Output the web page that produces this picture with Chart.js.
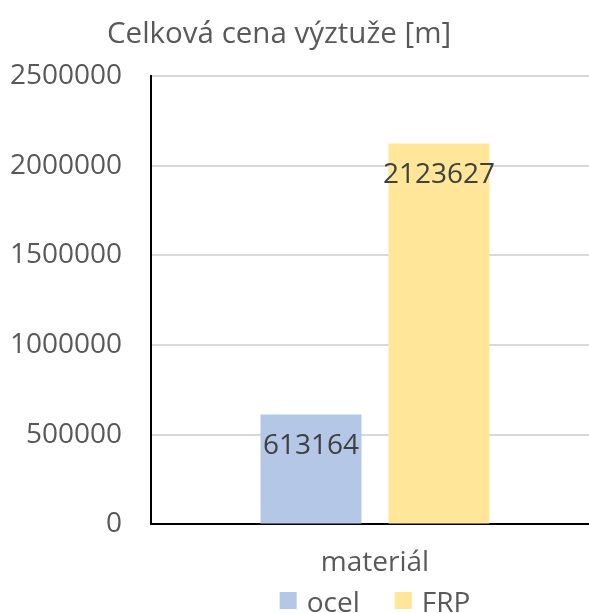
<!DOCTYPE html>
<html>
<head>
<meta charset="utf-8">
<script src="https://cdn.jsdelivr.net/npm/chart.js@4"></script>
<style>
  html, body { margin: 0; padding: 0; background: #fff; overflow: hidden; }
  #wrap { width: 599px; height: 613px; }
</style>
</head>
<body>
<div id="wrap"><canvas id="myChart"></canvas></div>
<script>
var chartTitle = 'Celková cena výztuže [m]';
var categories = ['materiál'];
var ocel = [613164];
var frp = [2123627];
var yTicks = [0, 500000, 1000000, 1500000, 2000000, 2500000];

// value labels inside the top of each bar, title and legend drawn by hand
var extras = {
    id: 'extras',
    afterDatasetsDraw: function (chart) {
        var ctx = chart.ctx;
        ctx.save();
        ctx.font = '28px "Open Sans"';
        ctx.fillStyle = '#404040';
        ctx.textAlign = 'center';
        ctx.textBaseline = 'middle';
        chart.data.datasets.forEach(function (ds, i) {
            chart.getDatasetMeta(i).data.forEach(function (bar, j) {
                ctx.fillText(String(ds.data[j]), bar.x, bar.y + 32);
            });
        });
        ctx.restore();
    },
    afterDraw: function (chart) {
        var ctx = chart.ctx;
        ctx.save();
        // title
        ctx.font = '29.5px "Open Sans"';
        ctx.fillStyle = '#595959';
        ctx.textAlign = 'left';
        ctx.textBaseline = 'alphabetic';
        ctx.fillText(chartTitle, 107, 43);
        // legend
        ctx.font = '28px "Open Sans"';
        var items = chart.data.datasets.map(function (ds) {
            return { text: ds.label, color: ds.backgroundColor, w: ctx.measureText(ds.label).width };
        });
        var box = 17, gapText = 10, gapItem = 35;
        var total = 0;
        items.forEach(function (it, k) {
            total += box + gapText + it.w + (k < items.length - 1 ? gapItem : 0);
        });
        var cx = (chart.chartArea.left + chart.chartArea.right) / 2;
        var x = cx - total / 2;
        var baseY = 612;
        items.forEach(function (it) {
            ctx.fillStyle = it.color;
            ctx.fillRect(x, baseY - 20, box, box);
            ctx.fillStyle = '#595959';
            ctx.fillText(it.text, x + box + gapText, baseY);
            x += box + gapText + it.w + gapItem;
        });
        ctx.restore();
    }
};

Chart.defaults.font.family = '"Open Sans"';
Chart.defaults.color = '#595959';

var ctx = document.getElementById("myChart").getContext("2d");
var myChart = new Chart(ctx, {
    type: 'bar',
    data: {
        labels: categories,
        datasets: [{
            label: 'ocel',
            data: ocel,
            backgroundColor: '#B4C7E7'
        }, {
            label: 'FRP',
            data: frp,
            backgroundColor: '#FFE699'
        }]
    },
    options: {
        responsive: true,
        maintainAspectRatio: false,
        animation: false,
        categoryPercentage: 0.5714,
        barPercentage: 0.789,
        layout: { padding: { left: 0, right: 0, top: 76, bottom: 11 } },
        plugins: {
            title: { display: false },
            legend: { display: false },
            tooltip: { enabled: false }
        },
        scales: {
            x: {
                grid: { display: false, drawTicks: false },
                border: { color: '#000000', width: 2 },
                ticks: { padding: 22, font: { size: 28 }, color: '#595959' }
            },
            y: {
                min: 0,
                max: 2500000,
                afterBuildTicks: function (axis) {
                    axis.ticks = yTicks.map(function (v) { return { value: v }; });
                },
                afterFit: function (axis) { axis.width = 151; },
                grid: { color: '#D9D9D9', lineWidth: 2, drawTicks: false },
                border: { color: '#000000', width: 2 },
                ticks: {
                    padding: 29,
                    font: { size: 28 },
                    color: '#595959',
                    callback: function (v) { return String(v); }
                }
            }
        }
    },
    plugins: [extras]
});
</script>
</body>
</html>
